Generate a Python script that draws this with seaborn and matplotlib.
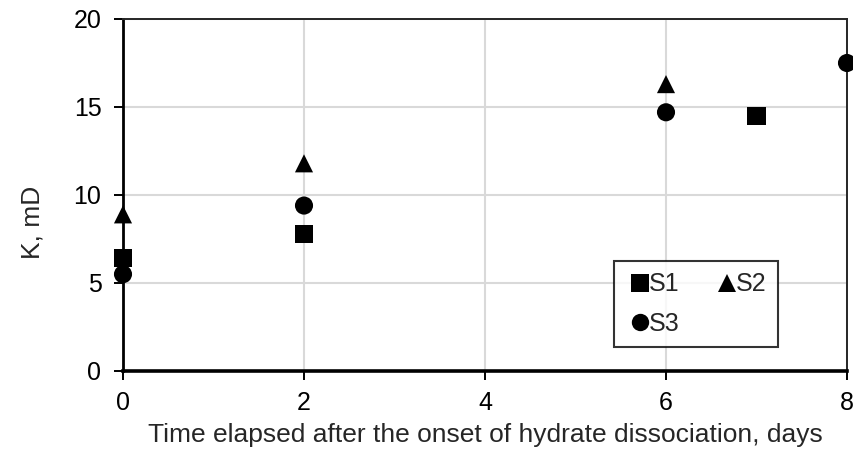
import matplotlib
matplotlib.use("Agg")
import matplotlib.pyplot as plt
import seaborn as sns
import pandas as pd

# Permeability measurements per sample
s1_days = [0, 2, 7]
s1_k = [6.4, 7.8, 14.5]
s2_days = [0, 2, 6]
s2_k = [8.9, 11.8, 16.3]
s3_days = [0, 2, 6, 8]
s3_k = [5.5, 9.4, 14.7, 17.5]

samples = ["S1", "S2", "S3"]
markers = {"S1": "s", "S2": "^", "S3": "o"}

df = pd.concat([
    pd.DataFrame({"days": s1_days, "K": s1_k, "sample": "S1"}),
    pd.DataFrame({"days": s2_days, "K": s2_k, "sample": "S2"}),
    pd.DataFrame({"days": s3_days, "K": s3_k, "sample": "S3"}),
])

sns.set_style("white")
plt.rcParams["font.family"] = ["Liberation Sans", "DejaVu Sans"]

fig = plt.figure(figsize=(8.54, 4.55), dpi=100)
ax = fig.add_axes([123 / 854, 1 - 371 / 455, (847 - 123) / 854, (371 - 19) / 455])

sns.scatterplot(data=df, x="days", y="K", style="sample", markers=markers,
                style_order=samples, color="black", s=170, edgecolor="none",
                ax=ax, legend=False, clip_on=False, zorder=3)

ax.set_xlim(0, 8)
ax.set_ylim(0, 20)
ax.set_xticks([0, 2, 4, 6, 8])
ax.set_yticks([0, 5, 10, 15, 20])
ax.grid(True, color="#d9d9d9", linewidth=1.5)
ax.set_axisbelow(True)

ax.spines["left"].set_color("black")
ax.spines["left"].set_linewidth(2.0)
ax.spines["bottom"].set_color("black")
ax.spines["bottom"].set_linewidth(2.6)
for side in ["top", "right"]:
    ax.spines[side].set_color("#262626")
    ax.spines[side].set_linewidth(1.4)
    ax.spines[side].set_visible(True)

ax.tick_params(axis="both", direction="out", length=6.5, width=1.4,
               labelsize=18, colors="black", left=True, bottom=True)
ax.tick_params(axis="y", pad=9)
ax.tick_params(axis="x", pad=8)
ax.set_xlabel("Time elapsed after the onset of hydrate dissociation, days",
              fontsize=19, labelpad=6)
ax.set_ylabel("K, mD", fontsize=19)
ax.yaxis.set_label_coords(-0.108, 0.423)

# Legend: S1, S2 on the first row, S3 below
handles = {
    name: plt.Line2D([], [], marker=markers[name], linestyle="none",
                     color="black", markersize=12.5, markeredgewidth=0)
    for name in samples
}
order = ["S1", "S3", "S2"]
leg = ax.legend([handles[n] for n in order], order, ncol=2, fontsize=18,
                loc="upper left", bbox_to_anchor=((614 - 123) / 724, (371 - 261) / 352),
                frameon=True, fancybox=False, edgecolor="black",
                handlelength=1.2, handletextpad=-0.25, columnspacing=1.3,
                borderpad=0.45, labelspacing=0.62, borderaxespad=0)
leg.get_frame().set_linewidth(1.5)

fig.savefig("out.png", dpi=100)
